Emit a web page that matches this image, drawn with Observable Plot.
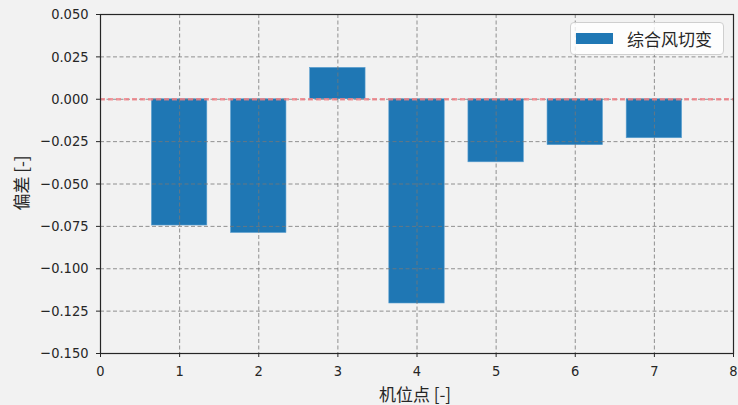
<!DOCTYPE html>
<html><head><meta charset="utf-8">
<script src="https://cdn.jsdelivr.net/npm/d3@7"></script>
<script src="https://cdn.jsdelivr.net/npm/@observablehq/plot@0.6"></script>
<style>
body{margin:0;background:#f2f2f2;}
#wrap{position:relative;width:738px;height:405px;background:#f2f2f2;overflow:hidden;}
.lbl{position:absolute;font-family:"Noto Sans CJK SC",sans-serif;font-size:17px;color:#262626;white-space:nowrap;line-height:1;}
#legend{position:absolute;left:570px;top:22px;width:154px;height:33px;background:rgba(255,255,255,0.8);border:1px solid #cfcfcf;border-radius:4px;box-sizing:border-box;}
#patch{position:absolute;left:5px;top:10px;width:37px;height:11px;background:#1f77b4;}
#legtext{position:absolute;left:56px;top:7px;}
</style></head><body><div id="wrap"></div>
<script>
const positions = [1, 2, 3, 4, 5, 6, 7];
const deviations = [-0.0745, -0.0789, 0.0185, -0.1205, -0.0372, -0.0271, -0.0230];
const seriesName = "综合风切变";
const xLabel = "机位点 [-]";
const yLabel = "偏差 [-]";
const xTicks = [0, 1, 2, 3, 4, 5, 6, 7, 8];
const yTicks = [-0.150, -0.125, -0.100, -0.075, -0.050, -0.025, 0.000, 0.025, 0.050];

const barWidth = 0.7;
const data = positions.map((p, i) => ({p, v: deviations[i]}));
const gridStyle = {stroke: "#777", strokeOpacity: 1, strokeDasharray: "4,2.5", strokeWidth: 0.8};

const chart = Plot.plot({
  width: 738, height: 405,
  marginLeft: 100, marginRight: 5, marginTop: 14, marginBottom: 52,
  style: {background: "#f2f2f2", fontFamily: '"DejaVu Sans Condensed","DejaVu Sans",sans-serif', fontSize: "14.5px", color: "#262626"},
  x: {domain: [0, 8]},
  y: {domain: [-0.15, 0.05]},
  marks: [
    Plot.rect(data, {x1: d => d.p - barWidth / 2, x2: d => d.p + barWidth / 2, y1: 0, y2: "v", fill: "#1f77b4", stroke: "#5b9fd0", strokeWidth: 0.6}),
    Plot.gridX(xTicks, gridStyle),
    Plot.gridY(yTicks, gridStyle),
    Plot.ruleY([0], {stroke: "#f07f86", strokeOpacity: 0.8, strokeDasharray: "5,3", strokeWidth: 2.3}),
    Plot.frame({stroke: "#262626", strokeWidth: 1.2}),
    Plot.axisX({ticks: xTicks, tickSize: 4, tickPadding: 8, label: null, tickFormat: d3.format("d")}),
    Plot.axisY({ticks: yTicks, tickSize: 4, tickPadding: 8, label: null, tickFormat: d3.format(".3f")})
  ]
});
const wrap = document.getElementById("wrap");
wrap.appendChild(chart);

const xl = document.createElement("div");
xl.className = "lbl"; xl.textContent = xLabel;
xl.style.left = "415px"; xl.style.top = "393px"; xl.style.transform = "translate(-50%,-50%)";
wrap.appendChild(xl);

const yl = document.createElement("div");
yl.className = "lbl"; yl.textContent = yLabel;
yl.style.left = "20px"; yl.style.top = "183px"; yl.style.transform = "translate(-50%,-50%) rotate(-90deg)";
wrap.appendChild(yl);

const leg = document.createElement("div");
leg.id = "legend";
leg.innerHTML = '<div id="patch"></div><div id="legtext" class="lbl"></div>';
wrap.appendChild(leg);
document.getElementById("legtext").textContent = seriesName;
document.getElementById("legtext").style.position = "absolute";
</script></body></html>
